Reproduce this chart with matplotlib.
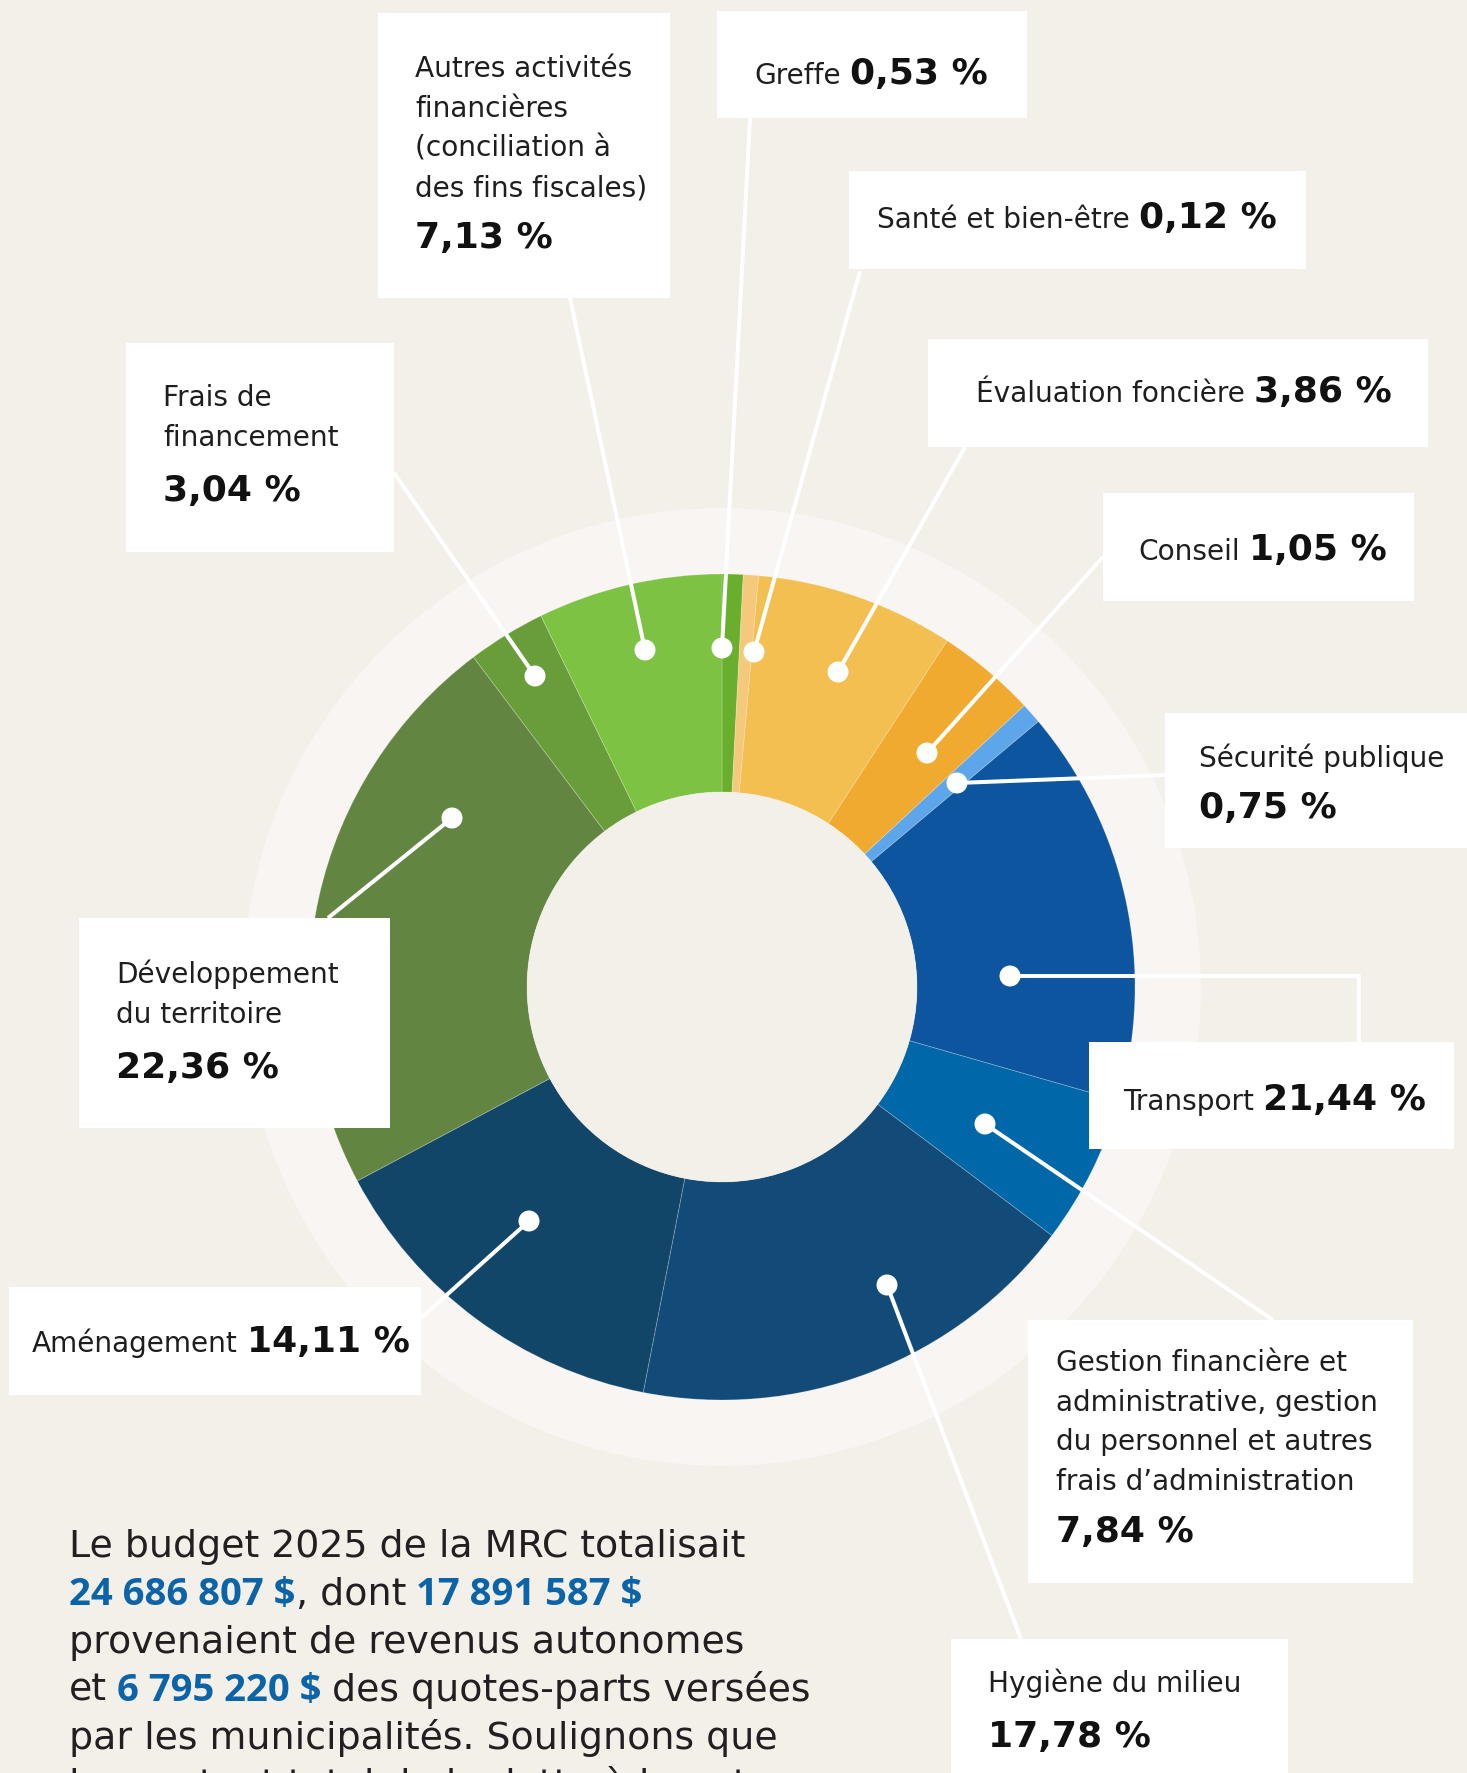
import matplotlib
matplotlib.use("Agg")
import matplotlib.pyplot as plt
from matplotlib.patches import Circle, Rectangle

# ---------------- data ----------------
categories = [
    "Greffe", "Santé et bien-être", "Évaluation foncière", "Conseil",
    "Sécurité publique", "Transport",
    "Gestion financière et administrative, gestion du personnel et autres frais d’administration",
    "Hygiène du milieu", "Aménagement", "Développement du territoire",
    "Frais de financement",
    "Autres activités financières (conciliation à des fins fiscales)",
]
percent_labels = ["0,53 %", "0,12 %", "3,86 %", "1,05 %", "0,75 %", "21,44 %",
                  "7,84 %", "17,78 %", "14,11 %", "22,36 %", "3,04 %", "7,13 %"]
# angular size of each slice as drawn in the picture (degrees, clockwise from top)
slice_degrees = [2.96, 2.14, 27.95, 14.0, 2.95, 56.0, 21.0, 64.0, 51.0, 81.0, 11.0, 26.0]
label_lines = [
    ["Greffe"], ["Santé et bien-être"], ["Évaluation foncière"], ["Conseil"],
    ["Sécurité publique"], ["Transport"],
    ["Gestion financière et", "administrative, gestion", "du personnel et autres",
     "frais d’administration"],
    ["Hygiène du milieu"], ["Aménagement"], ["Développement", "du territoire"],
    ["Frais de", "financement"],
    ["Autres activités", "financières", "(conciliation à", "des fins fiscales)"],
]
para_runs = [
    [("Le budget 2025 de la MRC totalisait", "n")],
    [("24 686 807 $", "b"), (", dont ", "n"), ("17 891 587 $", "b")],
    [("provenaient de revenus autonomes", "n")],
    [("et ", "n"), ("6 795 220 $", "b"), (" des quotes-parts versées", "n")],
    [("par les municipalités. Soulignons que", "n")],
    [("le montant total de la dette à long terme", "n")],
]

# ---------------- style / layout ----------------
colors = ["#69AF2D", "#F5C97B", "#F3BF50", "#EFAA2F", "#5DA6E9", "#0D559F",
          "#0068A8", "#124A78", "#114669", "#628641", "#699D3A", "#7DC243"]
BG = "#F3EFE9"
RING = "#F8F5F2"
W, H = 1467, 1773
CX, CY = 722, 987          # pixel coords (y down)
R_OUT, R_IN, R_RING = 413, 195, 479

def Y(y):
    return H - y

# box (x0, y0, x1, y1), text x, baselines of name lines, percent baseline (None = inline)
layout = [
    dict(box=(717, 11, 1027, 118), tx=754, bl=[84], pb=None,
         path=[(750, 118), (722, 648)]),
    dict(box=(849, 171, 1306, 269), tx=877, bl=[228], pb=None,
         path=[(860, 271), (754, 652)]),
    dict(box=(928, 339, 1428, 447), tx=976, bl=[402], pb=None,
         path=[(965, 447), (838, 672)]),
    dict(box=(1103, 493, 1414, 601), tx=1138, bl=[560], pb=None,
         path=[(1103, 557), (927, 753)]),
    dict(box=(1165, 713, 1480, 848), tx=1199, bl=[767], pb=818,
         path=[(1165, 775), (957, 783)]),
    dict(box=(1089, 1042, 1454, 1149), tx=1123, bl=[1110], pb=None,
         path=[(1359, 1042), (1359, 976), (1010, 976)]),
    dict(box=(1028, 1320, 1413, 1583), tx=1056, bl=[1371, 1411, 1450, 1490], pb=1542,
         path=[(1273, 1320), (985, 1124)]),
    dict(box=(951, 1639, 1288, 1800), tx=988, bl=[1692], pb=1747,
         path=[(1021, 1639), (887, 1285)]),
    dict(box=(9, 1287, 421, 1395), tx=32, bl=[1352], pb=None,
         path=[(421, 1318), (529, 1221)]),
    dict(box=(79, 918, 390, 1128), tx=116, bl=[983, 1023], pb=1078,
         path=[(328, 918), (452, 818)]),
    dict(box=(126, 343, 394, 552), tx=163, bl=[406, 446], pb=501,
         path=[(394, 473), (535, 676)]),
    dict(box=(378, 13, 670, 298), tx=415, bl=[77, 117, 156, 196], pb=248,
         path=[(570, 298), (645, 650)]),
]

REG = dict(fontsize=20.2, color="#1E1E1E", fontfamily=["DejaVu Sans"])
BOLD = dict(fontsize=26, color="#111111", fontweight="bold", fontfamily=["DejaVu Sans"])
PARA_N = dict(fontsize=27.3, color="#231F20", fontfamily=["DejaVu Sans"])
PARA_B = dict(fontsize=27.5, color="#0B64A8", fontweight="bold",
              fontfamily=["Open Sans", "DejaVu Sans"])

fig = plt.figure(figsize=(W / 100, H / 100), dpi=100, facecolor=BG)
ax = fig.add_axes([0, 0, 1, 1])
ax.set_facecolor(BG)

# outer pale ring
ax.add_patch(Circle((CX, Y(CY)), R_RING, facecolor=RING, edgecolor="none", zorder=0))

# donut
ax.pie(slice_degrees, colors=colors, startangle=90, counterclock=False,
       center=(CX, Y(CY)), radius=R_OUT,
       wedgeprops=dict(width=R_OUT - R_IN, linewidth=0.6, edgecolor=(1, 1, 1, 0.25)))
ax.add_patch(Circle((CX, Y(CY)), R_IN, facecolor=BG, edgecolor="none", zorder=2))

ax.set_xlim(0, W)
ax.set_ylim(0, H)
ax.set_aspect("equal")
ax.axis("off")

# leader lines + dots
for lay in layout:
    xs = [p[0] for p in lay["path"]]
    ys = [Y(p[1]) for p in lay["path"]]
    ax.plot(xs, ys, color="white", lw=2.9, solid_capstyle="butt", zorder=3)
    ax.add_patch(Circle((xs[-1], ys[-1]), 10.5, facecolor="white", edgecolor="none", zorder=4))

# label boxes
for lay in layout:
    x0, y0, x1, y1 = lay["box"]
    ax.add_patch(Rectangle((x0, Y(y1)), x1 - x0, y1 - y0, facecolor="white",
                           edgecolor="none", zorder=5))

fig.canvas.draw()
renderer = fig.canvas.get_renderer()
inv = ax.transData.inverted()

def text_right(t):
    bb = t.get_window_extent(renderer)
    return inv.transform((bb.x1, bb.y0))[0]

for i, lay in enumerate(layout):
    lines = label_lines[i]
    last = None
    for ln, b in zip(lines, lay["bl"]):
        last = ax.text(lay["tx"], Y(b), ln, ha="left", va="baseline", zorder=6, **REG)
    if lay["pb"] is None:
        xr = text_right(last) + 9
        ax.text(xr, Y(lay["bl"][-1]), percent_labels[i], ha="left", va="baseline",
                zorder=6, **BOLD)
    else:
        ax.text(lay["tx"], Y(lay["pb"]), percent_labels[i], ha="left", va="baseline",
                zorder=6, **BOLD)

# paragraph
PX, PB0, PSTEP = 69, 1557, 47.9
for k, runs in enumerate(para_runs):
    x = PX
    yb = Y(PB0 + k * PSTEP)
    for txt, st in runs:
        style = PARA_B if st == "b" else PARA_N
        lead = len(txt) - len(txt.lstrip(" "))
        trail = len(txt) - len(txt.rstrip(" "))
        x += lead * 10
        t = ax.text(x, yb, txt.strip(" "), ha="left", va="baseline", zorder=6, **style)
        x = text_right(t) + trail * 10

fig.savefig("out.png", dpi=100, facecolor=BG)
